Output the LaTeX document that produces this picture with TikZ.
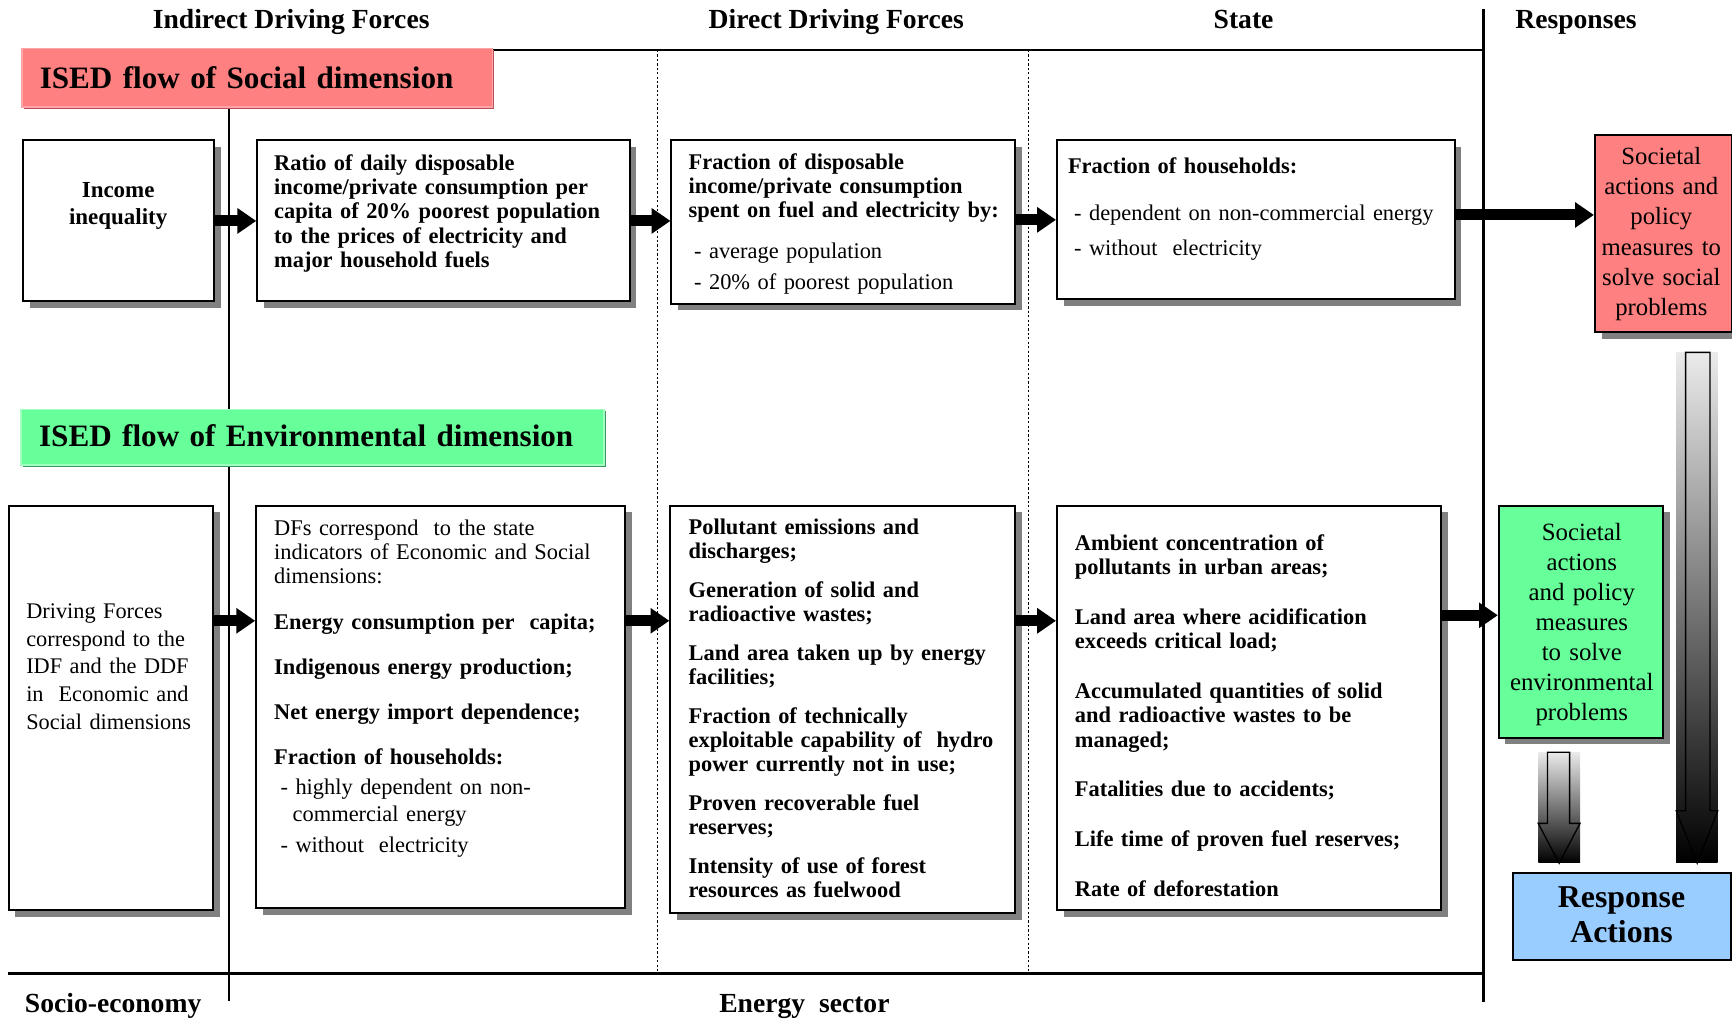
\documentclass[tikz,border=0pt]{standalone}
\usepackage{fontspec}
\setmainfont{Liberation Serif}
\usetikzlibrary{arrows.meta,shadows,calc}
\definecolor{pinkF}{RGB}{255,128,128}
\definecolor{pinkL}{RGB}{255,165,165}
\definecolor{pinkD}{RGB}{185,80,90}
\definecolor{greenF}{RGB}{102,255,153}
\definecolor{greenL}{RGB}{160,255,190}
\definecolor{greenD}{RGB}{60,150,100}
\definecolor{blueF}{RGB}{153,204,255}
\newcommand\fsz[2]{\fontsize{#1}{#2}\selectfont}
\begin{document}
\begin{tikzpicture}[x=0.5pt,y=-0.5pt,
  wh/.style 2 args={minimum width=#1*0.5pt, minimum height=#2*0.5pt},
  box/.style={draw, line width=0.9pt, fill=white, inner sep=0pt, anchor=north west},
  shbox/.style={box, drop shadow={shadow xshift=3pt, shadow yshift=-3pt, fill=black!50, opacity=1}},
  txt/.style={inner sep=0pt, anchor=base west, align=left, text width=220pt},
  ctxt/.style={inner sep=0pt, anchor=base, align=center},
  body/.style={font=\fsz{10.15}{11}},
  bbody/.style={font=\fsz{10.15}{11}\bfseries},
  hdr/.style={inner sep=0pt, font=\fsz{12.5}{15}\bfseries},
  ttl/.style={txt, text width=400pt, font=\fsz{14.1}{17}\bfseries},
  blk/.style={line width=5pt, -{Triangle[length=8.5pt,width=11pt]}},
  gradarrow/.style={line width=0.6pt, draw=black}
]
\useasboundingbox (0,0) rectangle (1568,923);

% frame lines
\draw[line width=0.75pt] (20,45.3) -- (1343,45.3);
\draw[line width=1.5pt] (1343,8.5) -- (1343,907);
\draw[line width=1.5pt] (7.3,881) -- (1343,881);
\draw[line width=0.5pt] (207.3,96.6) -- (207.3,906);
\draw[line width=0.5pt, dash pattern=on 1pt off 1pt] (595,45.3) -- (595,881);
\draw[line width=0.5pt, dash pattern=on 1pt off 1pt] (931,45.3) -- (931,881);

% headers
\node[hdr, anchor=base] (h1) at (263.6,25.7) {Indirect Driving Forces};
\node[hdr, anchor=base] (h2) at (757,25.7) {Direct Driving Forces};
\node[hdr, anchor=base] (h3) at (1125.8,25.7) {State};
\node[hdr, anchor=base] (h4) at (1426.7,25.7) {Responses};
\node[hdr, anchor=base west] (f1) at (22.2,917) {Socio-economy};
\node[hdr, anchor=base west] (f2) at (650.8,917) {Energy\ \ sector};

% title bars
\fill[pinkD] (21.5,45.5) rectangle (447.5,98.5);
\node[box, wh={426}{53}, fill=pinkF, draw=pinkL, line width=0.8pt] (pinkT) at (19,43) {};
\node[ttl] (pinkT-t) at (35.6,80) {ISED flow of Social dimension};
\fill[greenD] (20.5,372.5) rectangle (548.5,422.5);
\node[box, wh={528}{50}, fill=greenF, draw=greenL, line width=0.8pt] (greenT) at (18,370) {};
\node[ttl] (greenT-t) at (35,404.5) {ISED flow of Environmental dimension};

% social row boxes
\node[shbox, wh={173}{146}] (inc) at (20,126) {};
\node[shbox, wh={337}{146}] (ratio) at (232,126) {};
\node[shbox, wh={311}{148}] (fdisp) at (607,126) {};
\node[shbox, wh={360}{144}] (fhh) at (956,126) {};
\node[shbox, wh={124}{179}, fill=pinkF] (soc) at (1443,121) {};

% environmental row boxes
\node[shbox, wh={185}{366}] (dfx) at (7,457) {};
\node[shbox, wh={334}{364}] (dfs) at (231,457) {};
\node[shbox, wh={312}{369}] (poll) at (606,457) {};
\node[shbox, wh={348}{366}] (amb) at (956,457) {};
\node[shbox, wh={149}{210}, fill=greenF] (gsoc) at (1356,457) {};
\node[box, wh={197}{79}, fill=blueF] (resp) at (1369,789) {};

% block arrows
\draw[blk] (inc.east |- 0,200) -- (ratio.west |- 0,200);
\draw[blk] (ratio.east |- 0,200) -- (fdisp.west |- 0,200);
\draw[blk] (fdisp.east |- 0,199) -- (fhh.west |- 0,199);
\draw[blk] (fhh.east |- 0,194.6) -- (soc.west |- 0,194.6);
\draw[blk] (dfx.east |- 0,562) -- (dfs.west |- 0,562);
\draw[blk] (dfs.east |- 0,562) -- (poll.west |- 0,562);
\draw[blk] (poll.east |- 0,562) -- (amb.west |- 0,562);
\draw[blk] (amb.east |- 0,557) -- (gsoc.west |- 0,557);

% gradient arrows
\coordinate (bigtop) at (1536.5,319);
\coordinate (bigtip) at (1536.5,781.5);
\shade[top color=black!8, bottom color=black] (1517.5,319) rectangle (1555,781);
\draw[gradarrow] (1526,319) -- (1548,319) -- (1548,734) -- (1555,734) -- (bigtip) -- (1517.5,734) -- (1526,734) -- cycle;
\coordinate (smtop) at (1411.5,681);
\coordinate (smtip) at (1411.5,781.5);
\shade[top color=black!8, bottom color=black] (1392.6,681) rectangle (1430.4,781);
\draw[gradarrow] (1401,681) -- (1421,681) -- (1421,745.4) -- (1430.4,745.4) -- (smtip) -- (1392.6,745.4) -- (1401,745.4) -- cycle;

% texts social row
\node[ctxt, text width=80pt, font=\fsz{10.4}{12.2}\bfseries] (inc-t) at (107,178.6) {Income\\inequality};
\node[txt, bbody] (ratio-t) at (247.8,154) {Ratio of daily disposable\\income/private consumption per\\capita of 20\% poorest population\\to the prices of electricity and\\major household fuels};
\node[txt, body] (fdisp-t) at (623,153) {\textbf{Fraction of disposable}\\\textbf{income/private consumption}\\\textbf{spent on fuel and electricity by:}\\[7.5pt]\hspace*{2.5pt}- average population\\[3pt]\hspace*{2.5pt}- 20\% of poorest population};
\node[txt, body] (fhh-t) at (966.5,157) {\textbf{Fraction of households:}\\[10.25pt]\hspace*{2.75pt}- dependent on non-commercial energy\\[5pt]\hspace*{2.75pt}- without\ \ electricity};
\node[ctxt, text width=64pt, font=\fsz{11.2}{13.65}] (soc-t) at (1504,149) {Societal\\actions and\\policy\\measures to\\solve social\\problems};

% texts environmental row
\node[txt, font=\fsz{10.1}{12.5}] (dfx-t) at (23.4,560) {Driving Forces\\correspond to the\\IDF and the DDF\\in\ \ Economic and\\Social dimensions};
\node[txt, body] (dfs-t) at (247.8,484.5) {DFs correspond\ \ to the state\\indicators of Economic and Social\\dimensions:\\[9.5pt]\textbf{Energy consumption per\ \ capita;}\\[9.5pt]\textbf{Indigenous energy production;}\\[9.25pt]\textbf{Net energy import dependence;}\\[9.5pt]\textbf{Fraction of households:}\\[2.5pt]\hspace*{2.9pt}- highly dependent on non-\\[1.5pt]\hspace*{8.4pt}commercial energy\\[3pt]\hspace*{2.9pt}- without\ \ electricity};
\node[txt, bbody] (poll-t) at (623,483.8) {Pollutant emissions and\\discharges;\\[6.5pt]Generation of solid and\\radioactive wastes;\\[6.5pt]Land area taken up by energy\\facilities;\\[6.5pt]Fraction of technically\\exploitable capability of\ \ hydro\\power currently not in use;\\[6.5pt]Proven recoverable fuel\\reserves;\\[6.5pt]Intensity of use of forest\\resources as fuelwood};
\node[txt, bbody] (amb-t) at (972.7,498.5) {Ambient concentration of\\pollutants in urban areas;\\[11.5pt]Land area where acidification\\exceeds critical load;\\[11.5pt]Accumulated quantities of solid\\and radioactive wastes to be\\managed;\\[11.5pt]Fatalities due to accidents;\\[11.5pt]Life time of proven fuel reserves;\\[11.5pt]Rate of deforestation};
\node[ctxt, text width=72pt, font=\fsz{11.25}{13.6}] (gsoc-t) at (1432,489.4) {Societal\\actions\\and policy\\measures\\to solve\\environmental\\problems};
\node[ctxt, text width=95pt, font=\fsz{14.4}{15.4}\bfseries] (resp-t) at (1468,822) {Response\\Actions};
\end{tikzpicture}
\end{document}
